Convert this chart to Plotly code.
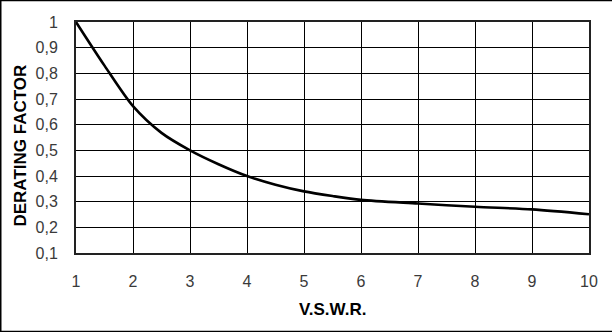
import plotly.graph_objects as go

# Data
vswr = [1.0, 1.5, 2.0, 2.5, 3.0, 3.5, 4.0, 4.5, 5.0, 5.5, 6.0, 7.0, 8.0, 9.0, 10.0]
derating = [1.0, 0.83, 0.672, 0.568, 0.5, 0.446, 0.40, 0.366, 0.34, 0.322, 0.307, 0.293, 0.280, 0.270, 0.251]

x_ticks = [1, 2, 3, 4, 5, 6, 7, 8, 9, 10]
x_ticktext = ["1", "2", "3", "4", "5", "6", "7", "8", "9", "10"]
y_ticks = [0.1, 0.2, 0.3, 0.4, 0.5, 0.6, 0.7, 0.8, 0.9, 1.0]
y_ticktext = ["0,1", "0,2", "0,3", "0,4", "0,5", "0,6", "0,7", "0,8", "0,9", "1"]

x_title = "V.S.W.R."
y_title = "DERATING FACTOR"

W, H = 612, 332
L, R, T, B = 76, 589, 22.3, 252.7
pw, ph = R - L, B - T

def px_x(p):
    return (p - L) / pw

def px_y(p):
    return (B - p) / ph

fig = go.Figure()
fig.add_trace(go.Scatter(
    x=vswr, y=derating, mode="lines",
    line=dict(color="black", width=2.6, shape="spline", smoothing=0.8),
    hoverinfo="skip", showlegend=False,
))

tickfont = dict(family="Liberation Sans, Arial, sans-serif", size=16, color="#3a3a3a")
titlefont = dict(family="Liberation Sans, Arial, sans-serif", size=17, color="black")

fig.update_layout(
    width=W, height=H,
    margin=dict(l=L, r=W - R, t=T, b=H - B, pad=0),
    paper_bgcolor="white", plot_bgcolor="white",
    showlegend=False,
    xaxis=dict(
        range=[1, 10], tickvals=x_ticks, ticktext=x_ticktext,
        showgrid=True, gridcolor="black", gridwidth=1,
        showline=True, linecolor="#222", linewidth=2, mirror=True,
        zeroline=False, ticks="", tickfont=tickfont, ticklabelstandoff=13,
        fixedrange=True,
    ),
    yaxis=dict(
        range=[0.1, 1.0], tickvals=y_ticks, ticktext=y_ticktext,
        showgrid=True, gridcolor="black", gridwidth=1,
        showline=True, linecolor="#222", linewidth=2, mirror=True,
        zeroline=False, ticks="", tickfont=tickfont, ticklabelstandoff=13,
        fixedrange=True,
    ),
    annotations=[
        dict(text="<b>" + x_title + "</b>", xref="paper", yref="paper",
             x=0.5, y=px_y(309), xanchor="center", yanchor="middle",
             showarrow=False, font=titlefont),
        dict(text="<b>" + y_title + "</b>", xref="paper", yref="paper",
             x=px_x(21), y=px_y(145.5), xanchor="center", yanchor="middle",
             textangle=-90, showarrow=False, font=titlefont),
    ],
    shapes=[
        dict(type="line", xref="paper", yref="paper",
             x0=px_x(0), x1=px_x(W), y0=px_y(0.75), y1=px_y(0.75),
             line=dict(color="black", width=1.5)),
        dict(type="line", xref="paper", yref="paper",
             x0=px_x(0.75), x1=px_x(0.75), y0=px_y(0), y1=px_y(H),
             line=dict(color="black", width=1.5)),
        dict(type="line", xref="paper", yref="paper",
             x0=px_x(0), x1=px_x(W), y0=px_y(331), y1=px_y(331),
             line=dict(color="black", width=1.5)),
    ],
)

fig.write_html("out.html", config={"displayModeBar": False},
               post_script="document.body.style.margin='0';document.body.style.overflow='hidden';")
